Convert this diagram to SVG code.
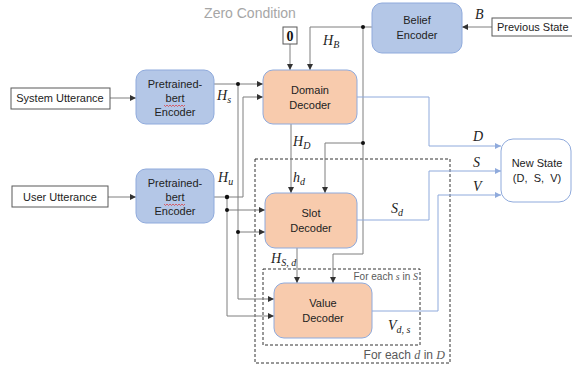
<svg xmlns="http://www.w3.org/2000/svg" width="572" height="367" viewBox="0 0 572 367">
<defs>
<marker id="ah" viewBox="0 0 6 6" refX="6" refY="3" markerWidth="6" markerHeight="6" markerUnits="userSpaceOnUse" orient="auto">
<path d="M0,0 L6,3 L0,6 z" fill="#333"/>
</marker>
<marker id="ahb" viewBox="0 0 6 6" refX="6" refY="3" markerWidth="6" markerHeight="6" markerUnits="userSpaceOnUse" orient="auto">
<path d="M0,0 L6,3 L0,6 z" fill="#8faadc"/>
</marker>
</defs>
<style>
.enc{fill:#b4c7e7;stroke:#8faadc;stroke-width:1}
.dec{fill:#f8cbad;stroke:#8faadc;stroke-width:1}
.box{fill:#fff;stroke:#595959;stroke-width:1}
.lbl{font-family:"Liberation Sans",Arial,sans-serif;font-size:11px;fill:#222;text-anchor:middle}
.math{font-family:"Liberation Serif","Times New Roman",serif;font-style:italic;font-size:14px;fill:#222}
.sub{font-size:10px}
.c{fill:none;stroke:#7f7f7f;stroke-width:1}
.b{fill:none;stroke:#8faadc;stroke-width:1}
.dash{fill:none;stroke:#333;stroke-width:1;stroke-dasharray:3 2}
.dot{fill:#111}
.note{font-family:"Liberation Sans",Arial,sans-serif;fill:#595959}
</style>
<rect width="572" height="367" fill="#fff"/>

<!-- loop frames -->
<rect class="dash" x="255" y="159" width="195" height="204"/>
<rect class="dash" x="263" y="269" width="157" height="76"/>
<text class="note" x="445" y="359" font-size="12" text-anchor="end">For each <tspan font-family="Liberation Serif" font-style="italic">d</tspan> in <tspan font-family="Liberation Serif" font-style="italic">D</tspan></text>
<text class="note" x="418" y="280" font-size="10" text-anchor="end">For each <tspan font-family="Liberation Serif" font-style="italic">s</tspan> in <tspan font-family="Liberation Serif" font-style="italic">S</tspan></text>

<text x="250" y="18" font-family="Liberation Sans,Arial,sans-serif" font-size="14" fill="#a6a6a6" text-anchor="middle">Zero Condition</text>

<g id="connectors">
<path class="c" d="M110,98 H136" marker-end="url(#ah)"/>
<path class="c" d="M108,197 H136" marker-end="url(#ah)"/>
<path class="c" d="M492,27 H462" marker-end="url(#ah)"/>
<path class="c" d="M372,27 H310 V70" marker-end="url(#ah)"/>
<path class="c" d="M363,27 V254 H333 V283" marker-end="url(#ah)"/>
<path class="c" d="M363,143 H325 V193" marker-end="url(#ah)"/>
<path class="c" d="M290,44 V70" marker-end="url(#ah)"/>
<path class="c" d="M291,124 V193" marker-end="url(#ah)"/>
<path class="c" d="M297,248 V283" marker-end="url(#ah)"/>
<path class="c" d="M214,84 H263" marker-end="url(#ah)"/>
<path class="c" d="M238,84 V299 H274" marker-end="url(#ah)"/>
<path class="c" d="M238,232 H265" marker-end="url(#ah)"/>
<path class="c" d="M214,197 H243 V97 H263" marker-end="url(#ah)"/>
<path class="c" d="M227,197 V316 H274" marker-end="url(#ah)"/>
<path class="c" d="M227,210 H265" marker-end="url(#ah)"/>
<path class="b" d="M357,97 H429 V146 H501" marker-end="url(#ahb)"/>
<path class="b" d="M357,220 H429 V171 H501" marker-end="url(#ahb)"/>
<path class="b" d="M372,311 H438 V195 H501" marker-end="url(#ahb)"/>
<circle class="dot" cx="363" cy="27" r="2"/>
<circle class="dot" cx="363" cy="143" r="2"/>
<circle class="dot" cx="238" cy="84" r="2"/>
<circle class="dot" cx="238" cy="232" r="2"/>
<circle class="dot" cx="227" cy="197" r="2.2"/>
<circle class="dot" cx="227" cy="210" r="2"/>
</g>

<!-- edge labels -->
<text class="math" x="475" y="19">B</text>
<text class="math" x="323" y="45">H<tspan class="sub" dy="3">B</tspan></text>
<text class="math" x="217" y="100">H<tspan class="sub" dy="3">s</tspan></text>
<text class="math" x="218" y="182">H<tspan class="sub" dy="3">u</tspan></text>
<text class="math" x="293" y="146">H<tspan class="sub" dy="3">D</tspan></text>
<text class="math" x="293" y="182">h<tspan class="sub" dy="3">d</tspan></text>
<text class="math" x="391" y="213">S<tspan class="sub" dy="3">d</tspan></text>
<text class="math" x="271" y="263">H<tspan class="sub" dy="3">S, d</tspan></text>
<text class="math" x="473" y="141">D</text>
<text class="math" x="473" y="167">S</text>
<text class="math" x="473" y="191">V</text>
<text class="math" x="388" y="330" font-size="15">V<tspan class="sub" dy="3">d, s</tspan></text>

<g id="system-utterance">
<rect class="box" x="11" y="88" width="99" height="21"/>
<text class="lbl" x="60" y="102">System Utterance</text>
</g>
<g id="user-utterance">
<rect class="box" x="12" y="186" width="96" height="21"/>
<text class="lbl" x="60" y="201">User Utterance</text>
</g>
<g id="previous-state">
<rect class="box" x="492" y="18" width="85" height="18"/>
<text class="lbl" x="497" y="31" text-anchor="start" style="text-anchor:start">Previous State</text>
</g>
<g id="zero">
<rect class="box" x="283" y="27" width="14" height="17" stroke="#222"/>
<text x="290" y="41" font-family="Liberation Serif,serif" font-weight="bold" font-size="14" text-anchor="middle" fill="#111">0</text>
</g>
<g id="encoder-system">
<rect class="enc" x="136" y="70" width="78" height="54" rx="10"/>
<text class="lbl" x="175" y="88">Pretrained-</text>
<text class="lbl" x="175" y="102">bert</text>
<path d="M164,105 l1.5,1.5 l1.5,-1.5 l1.5,1.5 l1.5,-1.5 l1.5,1.5 l1.5,-1.5 l1.5,1.5 l1.5,-1.5 l1.5,1.5 l1.5,-1.5 l1.5,1.5 l1.5,-1.5 l1.5,1.5 l1.5,-1.5" fill="none" stroke="#e03030" stroke-width="0.7"/>
<text class="lbl" x="175" y="116">Encoder</text>
</g>
<g id="encoder-user">
<rect class="enc" x="136" y="169" width="78" height="54" rx="10"/>
<text class="lbl" x="175" y="187">Pretrained-</text>
<text class="lbl" x="175" y="201">bert</text>
<path d="M164,204 l1.5,1.5 l1.5,-1.5 l1.5,1.5 l1.5,-1.5 l1.5,1.5 l1.5,-1.5 l1.5,1.5 l1.5,-1.5 l1.5,1.5 l1.5,-1.5 l1.5,1.5 l1.5,-1.5 l1.5,1.5 l1.5,-1.5" fill="none" stroke="#e03030" stroke-width="0.7"/>
<text class="lbl" x="175" y="215">Encoder</text>
</g>
<g id="belief-encoder">
<rect class="enc" x="372" y="3" width="90" height="50" rx="10"/>
<text class="lbl" x="417" y="24">Belief</text>
<text class="lbl" x="417" y="39">Encoder</text>
</g>
<g id="domain-decoder">
<rect class="dec" x="263" y="70" width="94" height="54" rx="10"/>
<text class="lbl" x="310" y="94">Domain</text>
<text class="lbl" x="310" y="109">Decoder</text>
</g>
<g id="slot-decoder">
<rect class="dec" x="265" y="193" width="92" height="55" rx="10"/>
<text class="lbl" x="311" y="217">Slot</text>
<text class="lbl" x="311" y="232">Decoder</text>
</g>
<g id="value-decoder">
<rect class="dec" x="274" y="283" width="98" height="55" rx="10"/>
<text class="lbl" x="323" y="307">Value</text>
<text class="lbl" x="323" y="322">Decoder</text>
</g>
<g id="new-state">
<rect x="501" y="139" width="70" height="63" rx="12" fill="#fff" stroke="#8faadc"/>
<text class="lbl" x="537" y="167">New State</text>
<text class="lbl" x="537" y="182" xml:space="preserve">(D,  S,  V)</text>
</g>
</svg>
